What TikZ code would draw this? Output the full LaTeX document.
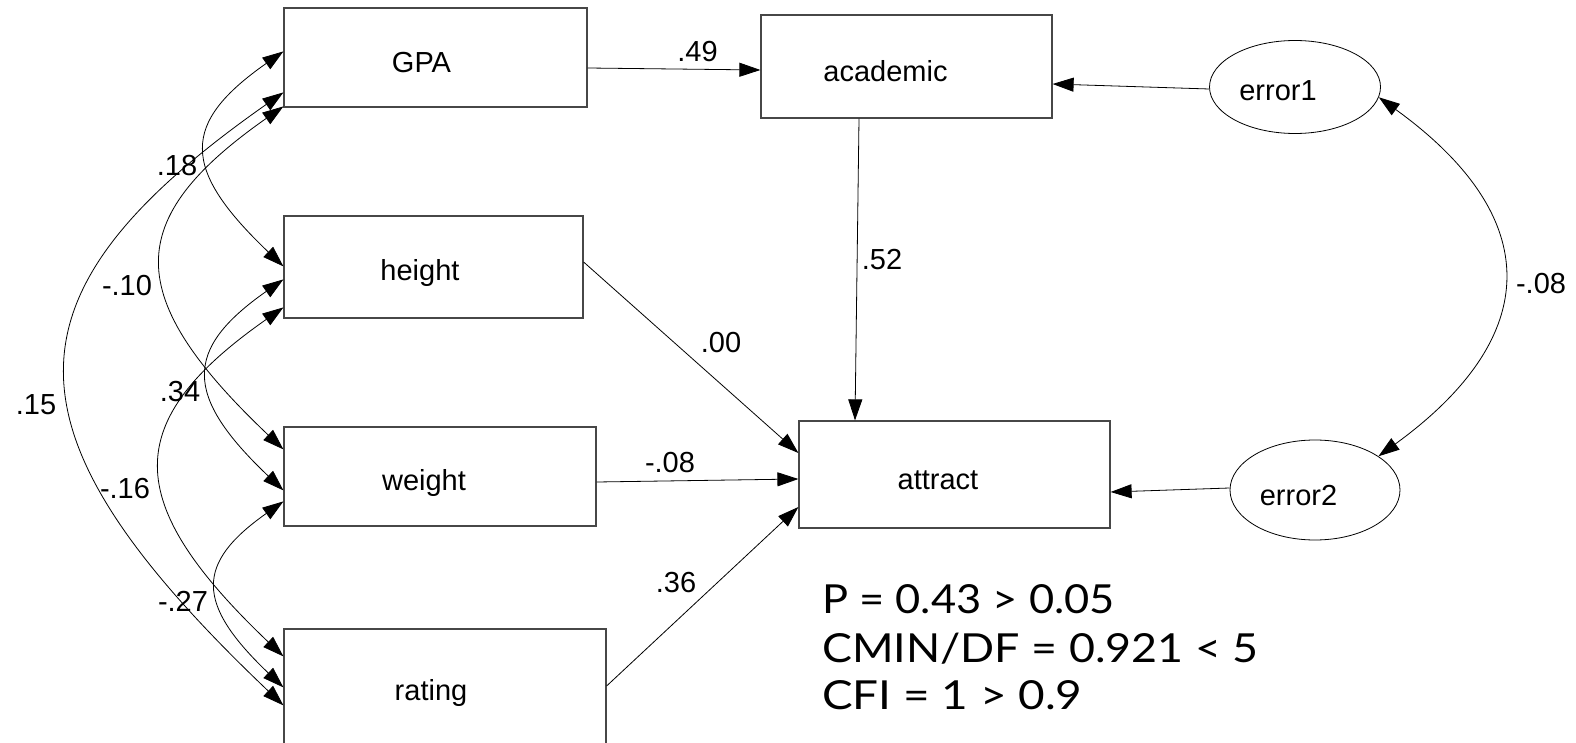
\documentclass[tikz,border=0pt]{standalone}
\usepackage{fontspec}
\usepackage{graphicx}
\setmainfont{Liberation Sans}
\newfontfamily\statfont{Lato}
\usetikzlibrary{arrows.meta,shapes.geometric}

\begin{document}
\begin{tikzpicture}[x=1pt,y=-1pt,
  obs/.style={draw=black!72, line width=1.2pt, rectangle, inner sep=0pt},
  err/.style={draw=black, line width=0.8pt, ellipse, inner sep=0pt},
  hd/.tip={Triangle[length=21pt,width=14pt]},
  reg/.style={draw, line width=0.8pt, -hd},
  cov/.style={draw, line width=0.8pt, hd-hd},
  vname/.style={font=\fontsize{29}{34}\selectfont, anchor=base, inner sep=0pt},
  coef/.style={font=\fontsize{29}{34}\selectfont, inner sep=0pt},
  fitidx/.style={font=\statfont\fontsize{40}{48}\selectfont, anchor=base west, inner sep=0pt}
]
\useasboundingbox (0,0) rectangle (1576,743);

% observed variables
\node[obs, minimum width=303pt, minimum height=99pt]  (gpa)    at (435.5,57.5)  {};
\node[obs, minimum width=299pt, minimum height=102pt] (height) at (433.5,267)   {};
\node[obs, minimum width=312pt, minimum height=99pt]  (weight) at (440,476.5)   {};
\node[obs, minimum width=322pt, minimum height=131pt] (rating) at (445,694.5)   {};
\node[obs, minimum width=291pt, minimum height=103pt] (acad)   at (906.5,66.5)  {};
\node[obs, minimum width=311pt, minimum height=107pt] (attr)   at (954.5,474.5) {};

% error terms
\node[err, minimum width=171pt, minimum height=93pt]  (e1) at (1295,87)  {};
\node[err, minimum width=170pt, minimum height=100pt] (e2) at (1315,490) {};

% variable names
\node[vname] (gpaT)    at (421.5,73)  {GPA};
\node[vname] (acadT)   at (885.5,82)  {academic};
\node[vname] (heightT) at (420,280.5) {height};
\node[vname] (weightT) at (424,490)   {weight};
\node[vname] (ratingT) at (431,700)   {rating};
\node[vname] (attrT)   at (938,489)   {attract};
\node[vname] (e1T)     at (1278,101)  {error1};
\node[vname] (e2T)     at (1298.5,505) {error2};

% regression paths
\draw[reg] ([yshift=-10.5pt]gpa.east) -- ([yshift=-3.5pt]acad.west);
\draw[reg] ([yshift=-2pt]e1.west) -- ([yshift=-17.5pt]acad.east);
\draw[reg] ([xshift=-47.5pt]acad.south) -- ([xshift=-99.5pt]attr.north);
\draw[reg] ([yshift=5pt]height.east) -- ([yshift=21.5pt]attr.west);
\draw[reg] ([yshift=-5.5pt]weight.east) -- ([yshift=-4.5pt]attr.west);
\draw[reg] ([yshift=8.5pt]rating.east) -- ([yshift=-32.5pt]attr.west);
\draw[reg] ([yshift=2pt]e2.west) -- ([yshift=-17.5pt]attr.east);

% covariances among the exogenous variables
\draw[cov] ([yshift=-44pt]gpa.north west) .. controls +(-102.7,72) and +(-102.7,-98) .. ([yshift=-51pt]height.north west);
\draw[cov] ([yshift=-99pt]gpa.north west) .. controls +(-161.3,113) and +(-161.3,-153) .. ([yshift=-23pt]weight.north west);
\draw[cov] ([yshift=-85pt]gpa.north west) .. controls +(-288,202) and +(-288,-274) .. ([yshift=-77pt]rating.north west);
\draw[cov] ([yshift=-64pt]height.north west) .. controls +(-100,70) and +(-100,-95) .. ([yshift=-64pt]weight.north west);
\draw[cov] ([yshift=-92pt]height.north west) .. controls +(-162.7,114) and +(-162.7,-155) .. ([yshift=-28pt]rating.north west);
\draw[cov] ([yshift=-75pt]weight.north west) .. controls +(-88,62) and +(-88,-84) .. ([yshift=-59pt]rating.north west);

% covariance of the error terms
\draw[cov] (e1.-7) .. controls +(166,120) and +(165,-120) .. (e2.28);

% path coefficients
\node[coef] (c49)  at (697.5,52) {.49};
\node[coef] (c52)  at (882,260)  {.52};
\node[coef] (c00)  at (721,343)  {.00};
\node[coef] (c08a) at (670,463)  {-.08};
\node[coef] (c36)  at (676,583)  {.36};
\node[coef] (c08b) at (1541,284) {-.08};
\node[coef] (c18)  at (177,166)  {.18};
\node[coef] (c10)  at (127,286)  {-.10};
\node[coef] (c15)  at (36,405)   {.15};
\node[coef] (c34)  at (180,392)  {.34};
\node[coef] (c16)  at (125,489)  {-.16};
\node[coef] (c27)  at (183,601)  {-.27};

% fit indices
\node[fitidx] (fitP)   at (822,613) {\scalebox{1.086}[1]{P = 0.43 > 0.05}};
\node[fitidx] (fitC)   at (822,662) {\scalebox{1.12}[1]{CMIN/DF = 0.921 < 5}};
\node[fitidx] (fitCFI) at (822,709) {\scalebox{1.147}[1]{CFI = 1 > 0.9}};
\end{tikzpicture}
\end{document}
